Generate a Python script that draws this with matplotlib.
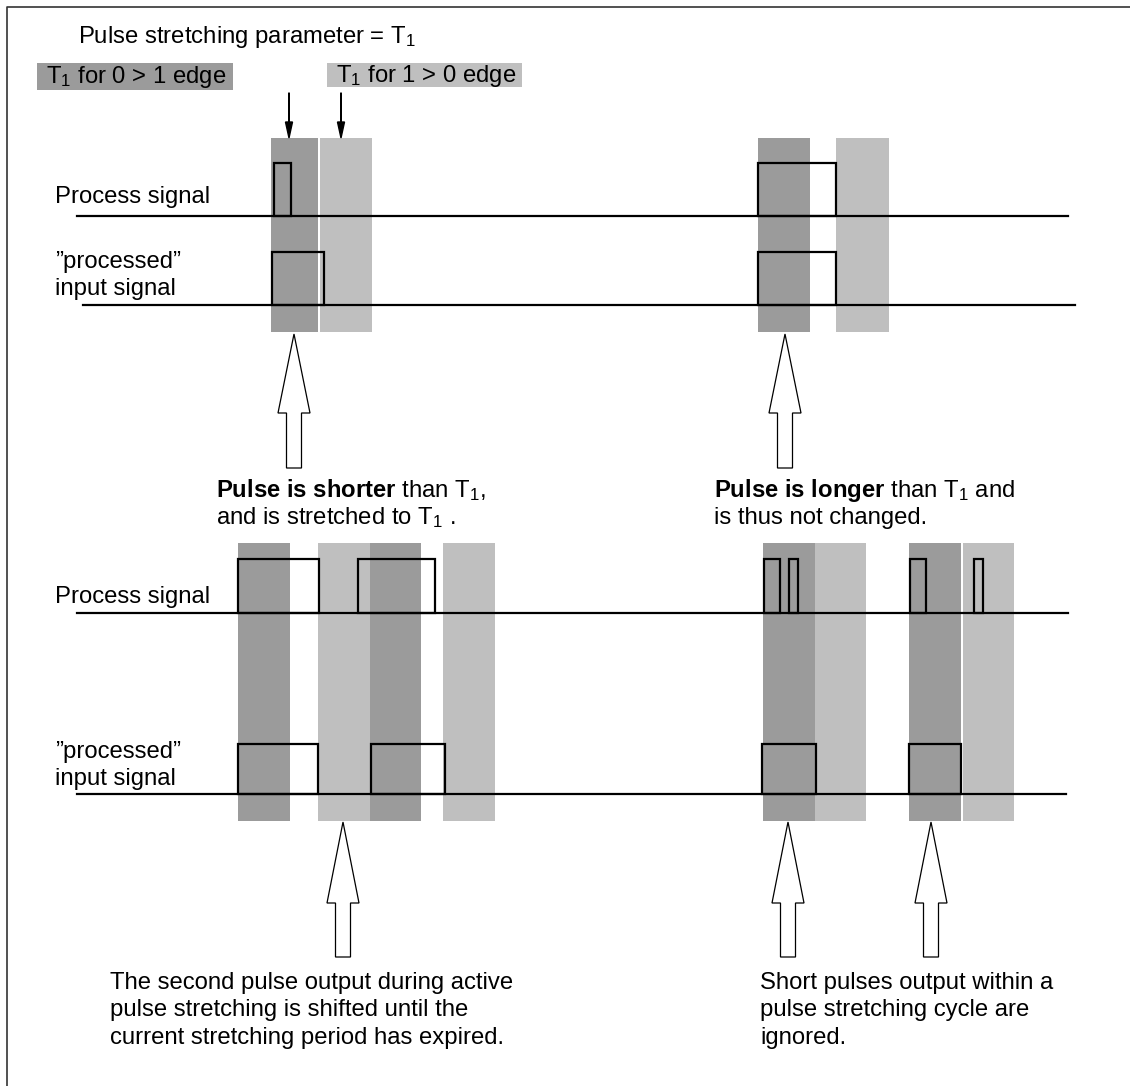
import matplotlib.pyplot as plt
from matplotlib.patches import Rectangle, FancyArrow

plt.rcParams["font.family"] = "Liberation Sans"
plt.rcParams["mathtext.fontset"] = "custom"
plt.rcParams["mathtext.rm"] = "Liberation Sans"
plt.rcParams["mathtext.it"] = "Liberation Sans"
plt.rcParams["mathtext.bf"] = "Liberation Sans:bold"

FS = 17.2
DARK = "#9b9b9b"
LIGHT = "#bfbfbf"

# ---- diagram data (pixel coords, y grows downward) ----
# bands: (x0, x1, shade)
top_bands = [(271, 318, "d"), (320, 372, "l"), (758, 810, "d"), (836, 889, "l")]
top_band_y = (138, 332)
bot_bands = [(238, 290, "d"), (318, 370, "l"), (370, 421, "d"), (443, 495, "l"),
             (763, 815, "d"), (815, 866, "l"), (909, 961, "d"), (963, 1014, "l")]
bot_band_y = (543, 821)

# signal baselines: (y, x_start, x_end)
baselines = [(216, 77, 1068), (305, 83, 1075), (613, 77, 1068), (794, 77, 1066)]

# pulses: (x0, x1, baseline_y, top_y)
pulses = [
    (274, 291, 216, 163), (758, 836, 216, 163),
    (272, 324, 305, 252), (758, 836, 305, 252),
    (238, 319, 613, 559), (358, 435, 613, 559),
    (764, 780, 613, 559), (789, 798, 613, 559),
    (910, 926, 613, 559), (974, 983, 613, 559),
    (238, 318, 794, 744), (371, 445, 794, 744),
    (762, 816, 794, 744), (909, 961, 794, 744),
]

# hollow arrows: (x_center, tip_y, base_y, head_base_y)
big_arrows = [(294, 334, 468, 413), (785, 334, 468, 413),
              (343, 822, 957, 903), (788, 822, 957, 903), (931, 822, 957, 903)]

small_arrow_x = [289, 341]

# label boxes: (x0, y0, w, h, shade)
label_boxes = [(37, 63, 196, 27, "d"), (327, 63, 195, 24, "l")]

signal_labels = [
    (55, 203, "Process signal"), (55, 268, "\u201dprocessed\u201d"), (55, 295, "input signal"),
    (55, 603, "Process signal"), (55, 758, "\u201dprocessed\u201d"), (55, 785, "input signal"),
]

header = [
    (78, 43, "Pulse stretching parameter = T$_1$"),
    (46, 83, "T$_1$ for 0 > 1 edge"),
    (336, 82, "T$_1$ for 1 > 0 edge"),
]

notes = [
    (216, 497, r"$\mathbf{Pulse\ is\ shorter}$ than T$_1$,"),
    (216, 524, "and is stretched to T$_1$ ."),
    (714, 497, r"$\mathbf{Pulse\ is\ longer}$ than T$_1$ and"),
    (714, 524, "is thus not changed."),
    (110, 989, "The second pulse output during active"),
    (110, 1016, "pulse stretching is shifted until the"),
    (110, 1044, "current stretching period has expired."),
    (760, 989, "Short pulses output within a"),
    (760, 1016, "pulse stretching cycle are"),
    (760, 1044, "ignored."),
]

fig = plt.figure(figsize=(11.3, 10.86), dpi=100)
ax = fig.add_axes([0, 0, 1, 1])
ax.set_xlim(0, 1130)
ax.set_ylim(1086, 0)
ax.axis("off")

# frame corner
ax.plot([7, 7, 1130], [1086, 7, 7], color="#333333", lw=1.2)

for bands, (y0, y1) in [(top_bands, top_band_y), (bot_bands, bot_band_y)]:
    for x0, x1, s in bands:
        ax.add_patch(Rectangle((x0, y0), x1 - x0, y1 - y0,
                               facecolor=DARK if s == "d" else LIGHT, edgecolor="none"))

for x0, y0, w, h, s in label_boxes:
    ax.add_patch(Rectangle((x0, y0), w, h, facecolor=DARK if s == "d" else LIGHT,
                           edgecolor="none"))

for y, xs, xe in baselines:
    ax.plot([xs, xe], [y, y], color="black", lw=1.6)

for x0, x1, yb, yt in pulses:
    ax.add_patch(Rectangle((x0, yt), x1 - x0, yb - yt, fill=False,
                           edgecolor="black", lw=1.6))

for xc, tip, base, hb in big_arrows:
    ax.add_patch(FancyArrow(xc, base, 0, tip - base, width=15, head_width=32,
                            head_length=hb - tip, length_includes_head=True,
                            facecolor="white", edgecolor="black", lw=0.9))

for x in small_arrow_x:
    ax.add_patch(FancyArrow(x, 93, 0, 45, width=0.6, head_width=7, head_length=16,
                            length_includes_head=True, color="black"))

for x, y, s in header + signal_labels + notes:
    ax.text(x, y, s, fontsize=FS)

fig.savefig("out.png", dpi=100)
